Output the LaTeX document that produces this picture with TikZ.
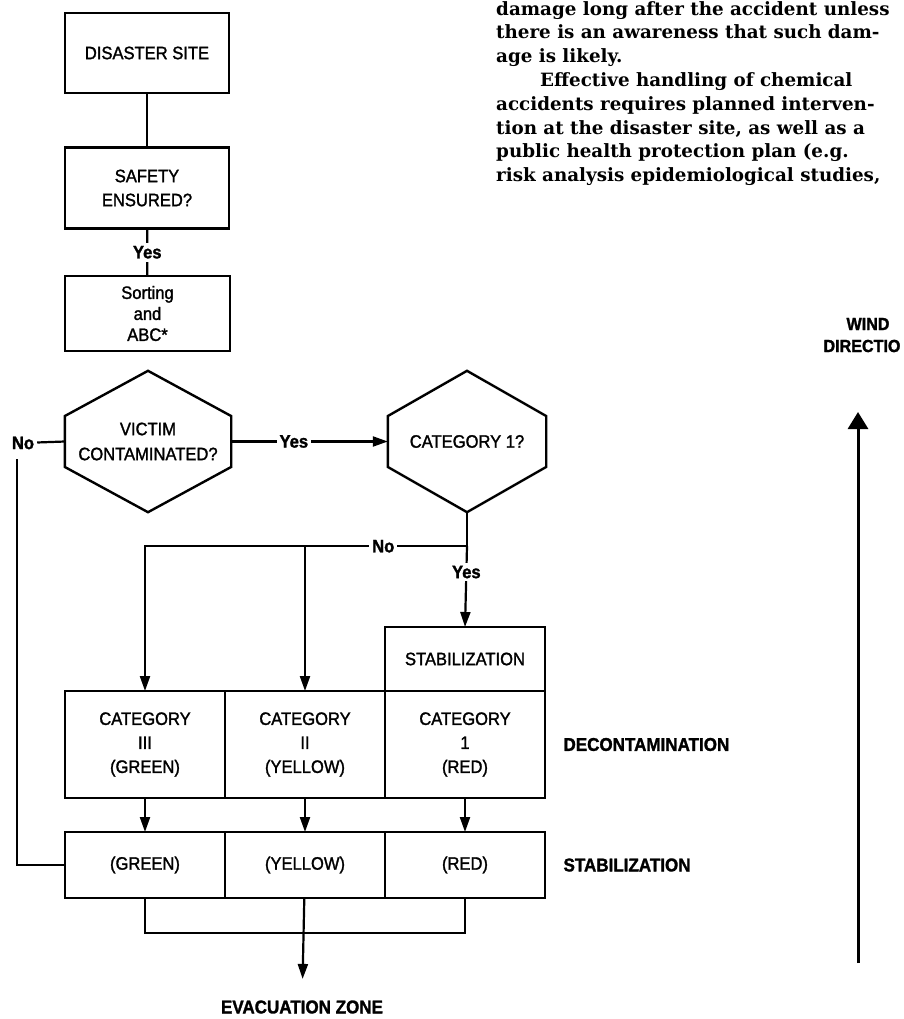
\documentclass[tikz,border=0pt]{standalone}
\usepackage{fontspec}
\setmainfont{DejaVu Serif}
\newfontfamily\chartfont[FakeStretch=0.92, FakeBold=1.5]{Liberation Sans}
\usetikzlibrary{positioning, arrows.meta, calc}

\begin{document}
\begin{tikzpicture}[
    x=10pt, y=-10pt,
    box/.style={rectangle, draw=black, line width=2.4pt, outer sep=0pt, minimum width=160pt,
                align=center, font=\chartfont\fontsize{18}{24}\selectfont},
    hexnode/.style={align=center, minimum width=166pt, minimum height=141pt,
                    font=\chartfont\fontsize{18}{25}\selectfont},
    hexline/.style={draw=black, line width=2.4pt, line join=miter},
    line/.style={line width=2.2pt},
    arrow/.style={-{Triangle[length=15pt, width=10pt]}, line width=2.2pt},
    answer/.style={font=\chartfont\bfseries\fontsize{18}{22}\selectfont, fill=white, inner sep=3pt},
    side/.style={font=\chartfont\bfseries\fontsize{18.5}{22}\selectfont},
    body/.style={font=\bfseries\fontsize{18.3}{23.8}\selectfont, align=left, inner sep=0pt}
]
    \useasboundingbox (0,0) rectangle (90.3,101.9);

    % Running text of the page
    \node[body, anchor=north west] (page) at (49.6, 0.1) {%
        damage long after the accident unless\\
        there is an awareness that such dam-\\
        age is likely.\\
        \hspace*{44pt}Effective handling of chemical\\
        accidents requires planned interven-\\
        tion at the disaster site, as well as a\\
        public health protection plan (e.g.\\
        risk analysis epidemiological studies,};

    % Site chain
    \node[box, minimum width=164pt, minimum height=80pt] (site) at (14.7, 5.3) {DISASTER SITE};
    \node[box, minimum width=164pt, minimum height=81pt] (safety) at (14.7, 18.8) {SAFETY\\ENSURED?};
    \node[box, minimum width=165pt, minimum height=75pt,
          font=\chartfont\fontsize{18}{21}\selectfont] (sorting) at (14.75, 31.35) {Sorting\\and\\ABC*};

    \draw[line] (site) -- (safety);
    \draw[line] (safety) -- node[answer] {Yes} (sorting);

    % Decisions
    \node[hexnode] (victim) at (14.8, 44.15) {VICTIM\\CONTAMINATED?};
    \node[hexnode, minimum width=158pt] (cat) at (46.7, 44.15) {CATEGORY 1?};
    \foreach \h in {victim, cat}
        \draw[hexline] (\h.north) -- ($(\h.north east)!.32!(\h.south east)$)
            -- ($(\h.north east)!.68!(\h.south east)$) -- (\h.south)
            -- ($(\h.north west)!.68!(\h.south west)$)
            -- ($(\h.north west)!.32!(\h.south west)$) -- cycle;

    \draw[arrow] (victim) -- node[answer, pos=0.4] {Yes} (cat);

    % Decontamination row
    \node[box, minimum height=107pt] (cgreen) at (14.5, 74.45) {CATEGORY\\III\\(GREEN)};
    \node[box, minimum height=107pt, right=0pt of cgreen] (cyellow) {CATEGORY\\II\\(YELLOW)};
    \node[box, minimum height=107pt, right=0pt of cyellow] (cred) {CATEGORY\\1\\(RED)};
    \node[box, minimum height=64pt, above=0pt of cred] (stab) {STABILIZATION};

    % Stabilization row
    \node[box, minimum height=66pt] (sgreen) at (14.5, 86.5) {(GREEN)};
    \node[box, minimum height=66pt, right=0pt of sgreen] (syellow) {(YELLOW)};
    \node[box, minimum height=66pt, right=0pt of syellow] (sred) {(RED)};

    \node[side, right=15pt of cred] (decon) {DECONTAMINATION};
    \node[side, right=15pt of sred] (stabside) {STABILIZATION};
    \node[side] (evac) at (30.2, 100.7) {EVACUATION ZONE};

    % Not contaminated
    \node[answer] (nolabel) at (2.3, 44.3) {No};
    \coordinate (nodrop) at (1.7, 45.9);
    \draw[line] (victim.west) -- (nolabel);
    \draw[line] (nodrop) |- (sgreen.west);

    % Category split
    \coordinate (split) at ($(cat.south)+(0,3.4)$);
    \draw[line] (cat.south) -- (split);
    \draw[arrow] (split) -- node[answer, pos=0.26] {No} (split -| cgreen.north) -- (cgreen.north);
    \draw[arrow] (split -| cyellow.north) -- (cyellow.north);
    \draw[arrow] (split) -- node[answer, pos=0.32] {Yes} (stab.north);

    \foreach \c in {green, yellow, red}
        \draw[arrow] (c\c) -- (s\c);

    % To evacuation
    \draw[line] (sgreen.south) -- ++(0,3.5) -| (sred.south);
    \draw[arrow, shorten >=18pt] (syellow) -- (evac);

    % Wind
    \node[side, font=\chartfont\bfseries\fontsize{17.5}{20}\selectfont] (wind) at (86.8, 32.4) {WIND};
    \node[side, font=\chartfont\bfseries\fontsize{17.5}{20}\selectfont, anchor=west] (dirn) at (82.0, 34.6) {DIRECTIO};
    \coordinate (windfoot) at (85.8, 96.3);
    \coordinate (windtip) at (85.8, 41.2);
    \draw[-{Triangle[length=17pt, width=20pt]}, line width=3pt] (windfoot) -- (windtip);

\end{tikzpicture}
\end{document}
